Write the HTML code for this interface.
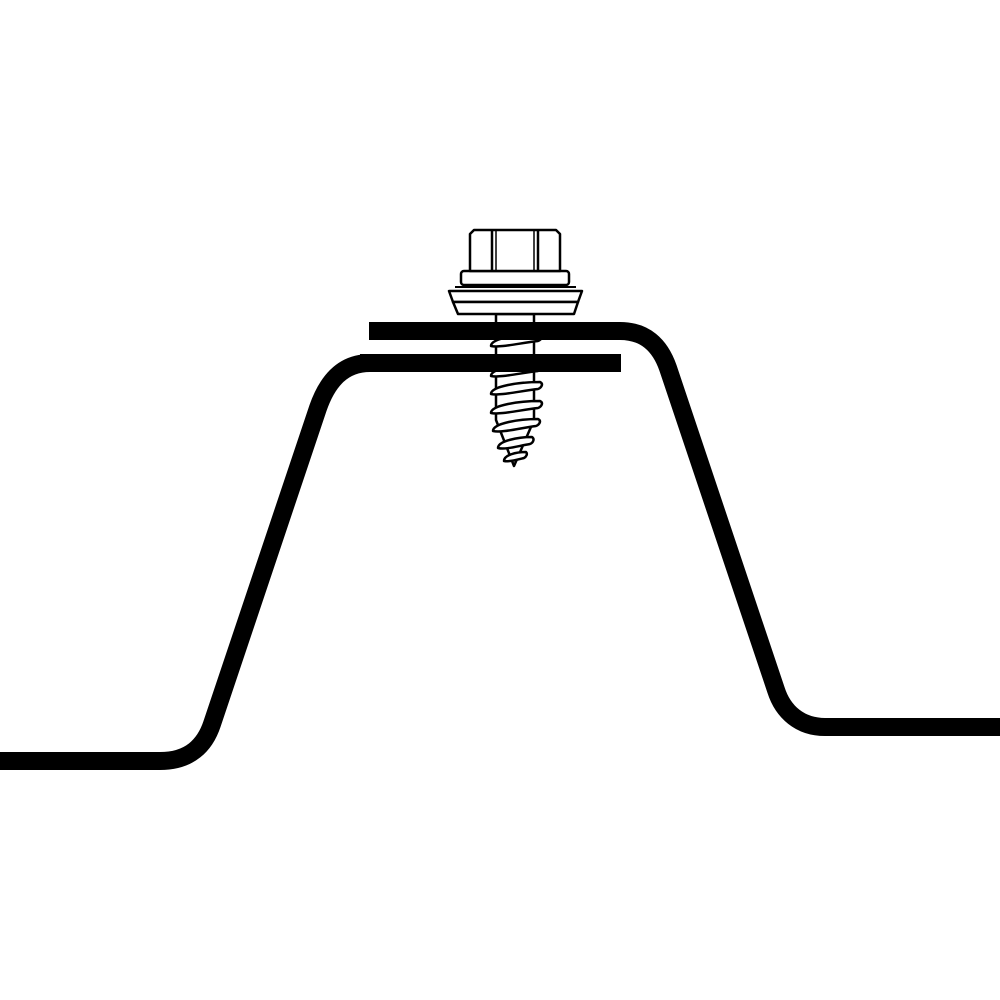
<!DOCTYPE html>
<html><head><meta charset="utf-8"><style>html,body{margin:0;padding:0;background:#fff}svg{display:block}</style></head>
<body>
<svg width="1000" height="1000" viewBox="0 0 1000 1000" xmlns="http://www.w3.org/2000/svg">
<rect width="1000" height="1000" fill="#fff"/>
<!-- lower sheet -->
<path d="M0,761 L160,761 C190,761 205,745 212,724 L318,408 C326,385 340,363 370,363 L621,363" fill="none" stroke="#000" stroke-width="18"/>
<!-- upper sheet -->
<path d="M369,331 L620,331 C645,331 660,345 668,368 L776,690 C783,712 800,727 825,727 L1000,727" fill="none" stroke="#000" stroke-width="18"/>
<!-- screw shank -->
<g fill="#fff" stroke="#000" stroke-width="2.5" stroke-linejoin="round">
<path d="M496,314 L496,420 L514,466 L534,420 L534,314 Z"/>
<path d="M491,346 C491,338 520,334 540,334 C544,336 541,340 538,341 C520,343 500,348 491,346 Z"/>
<path d="M491,376 C491,368 520,364 540,364 C544,366 541,370 538,371 C520,373 500,378 491,376 Z"/>
<path d="M491,394 C491,386 520,382 540,382 C544,384 541,388 538,389 C520,391 500,396 491,394 Z"/>
<path d="M491,413 C491,405 520,401 540,401 C544,403 541,407 538,408 C520,410 500,415 491,413 Z"/>
<path d="M493,431 C493,423 520,419 538,419 C542,421 539,425 536,426 C520,428 502,433 493,431 Z"/>
<path d="M498,448 C498,441 518,437 532,437 C535,439 533,443 530,444 C518,446 505,450 498,448 Z"/>
<path d="M504,461 C504,455 516,452 526,452 C528,454 526,457 524,458 C516,460 509,462 504,461 Z"/>
</g>
<!-- sheets redrawn over shank -->
<path d="M369,331 L620,331" stroke="#000" stroke-width="18"/>
<path d="M360,363 L621,363" stroke="#000" stroke-width="18"/>
<!-- washer -->
<g fill="#fff" stroke="#000" stroke-width="2.5" stroke-linejoin="round">
<path d="M449,291 L582,291 L578,302 L453,302 Z"/>
<path d="M453,302 L578,302 L574,314 L458,314 Z"/>
<rect x="461" y="271" width="108" height="14" rx="3"/>
<path d="M470,234 L474,230 L556,230 L560,234 L560,271 L470,271 Z"/>
<line x1="492" y1="231" x2="492" y2="271"/>
<line x1="538" y1="231" x2="538" y2="271"/>
<line x1="496" y1="231" x2="496" y2="271" stroke-width="1.5"/>
<line x1="534" y1="231" x2="534" y2="271" stroke-width="1.5"/>
<line x1="455" y1="287" x2="576" y2="287" stroke-width="2"/>
</g>
</svg>
</body></html>
